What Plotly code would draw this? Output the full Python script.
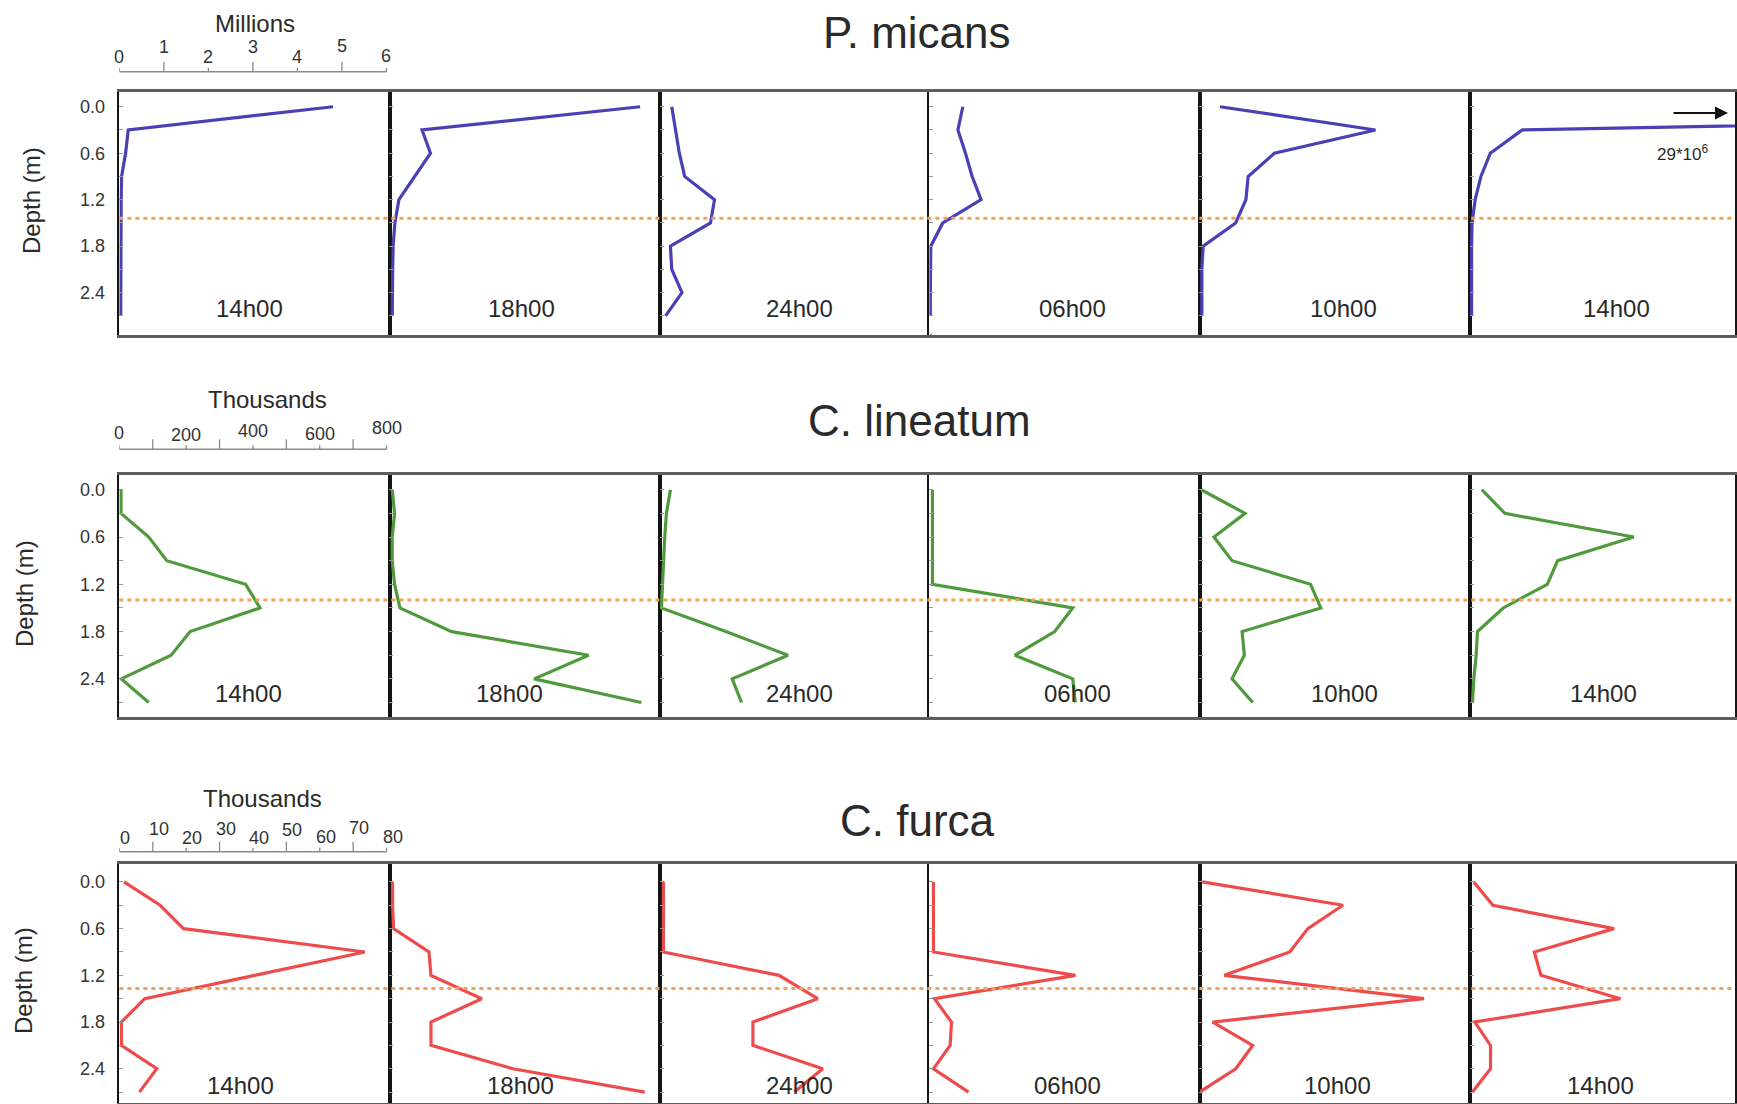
import plotly.graph_objects as go

# Sampling depths (m) and sampling times
depths = [0.0, 0.3, 0.6, 0.9, 1.2, 1.5, 1.8, 2.1, 2.4, 2.7]
times = ["14h00", "18h00", "24h00", "06h00", "10h00", "14h00"]

# P. micans abundance (millions of cells)
p_micans = [
    [4.80, 0.20, 0.14, 0.05, 0.04, 0.04, 0.04, 0.04, 0.03, 0.03],
    [5.63, 0.73, 0.92, 0.56, 0.21, 0.12, 0.08, 0.07, 0.06, 0.06],
    [0.27, 0.35, 0.44, 0.56, 1.23, 1.14, 0.24, 0.27, 0.50, 0.13],
    [0.75, 0.64, 0.81, 0.96, 1.16, 0.30, 0.03, 0.02, 0.02, 0.02],
    [0.46, 3.95, 1.68, 1.09, 1.04, 0.81, 0.08, 0.05, 0.05, 0.05],
    [29.0, 1.18, 0.46, 0.25, 0.12, 0.05, 0.04, 0.04, 0.04, 0.04],
]

# C. lineatum abundance (thousands of cells)
c_lineatum = [
    [5, 5, 88, 142, 378, 421, 212, 155, 6, 88],
    [8, 15, 8, 8, 15, 31, 186, 596, 433, 754],
    [32, 20, 15, 12, 9, 5, 198, 384, 217, 245],
    [9, 9, 9, 9, 9, 429, 375, 256, 429, 437],
    [5, 136, 43, 97, 332, 363, 127, 134, 97, 159],
    [36, 105, 491, 263, 232, 100, 23, 19, 12, 8],
]

# C. furca abundance (thousands of cells)
c_furca = [
    [1.4, 12.2, 19.2, 73.5, 40.5, 7.6, 0.6, 0.6, 11.2, 6.0],
    [0.9, 0.9, 1.2, 11.8, 12.4, 27.6, 12.4, 12.4, 36.9, 76.4],
    [1.1, 1.1, 1.1, 1.1, 35.7, 47.3, 27.9, 27.9, 48.8, 40.3],
    [1.2, 1.2, 1.2, 1.2, 43.7, 1.5, 6.6, 6.2, 1.2, 11.7],
    [0.8, 42.9, 32.4, 27.0, 7.4, 67.2, 3.9, 15.9, 10.8, 0.0],
    [1.2, 6.9, 43.2, 19.3, 21.3, 45.1, 1.5, 6.2, 6.2, 0.8],
]

species = ["P. micans", "C. lineatum", "C. furca"]
units = ["Millions", "Thousands", "Thousands"]
series = [p_micans, c_lineatum, c_furca]
line_colors = ["#4a40b5", "#4f9a3c", "#ee4c4c"]

# Depth of the dotted reference line in each row
ref_depth = [1.44, 1.40, 1.37]

# Abundance scale bar: tick values and labelled values per row
scale_ticks = [
    [0, 1, 2, 3, 4, 5, 6],
    [0, 100, 200, 300, 400, 500, 600, 700, 800],
    [0, 10, 20, 30, 40, 50, 60, 70, 80],
]
scale_labels = [
    [0, 1, 2, 3, 4, 5, 6],
    [0, 200, 400, 600, 800],
    [0, 10, 20, 30, 40, 50, 60, 70, 80],
]
depth_ticks = [0.0, 0.6, 1.2, 1.8, 2.4]

# ---------------- layout geometry (pixels) ----------------
W, H = 1737, 1104
col_left = [119.5, 390, 660.5, 930.5, 1201, 1471.5]
col_w = 270.5
row_top = [92, 475, 864]
row_bot = [334.5, 716.7, 1103]
yranges = [[2.94, -0.19], [2.88, -0.187], [2.84, -0.23]]
xmax = [6.07, 809, 80.9]

scale_line_y = [71.7, 449.3, 851.7]
scale_label_y = [
    [57, 47, 57, 47, 57, 46, 56],
    [433, 435, 431, 434, 428],
    [838, 829, 838, 829, 838, 830, 837, 828, 837],
]
scale_label_dx = [0, 0, 6]
title_pos = [(918, 33), (921, 420), (919, 820)]
unit_pos = [(255, 23), (268, 399), (263, 798)]
depth_label_pos = [(31, 200), (24, 593), (24, 980)]
time_frac = [
    [0.482, 0.490, 0.516, 0.529, 0.531, 0.542],
    [0.478, 0.444, 0.516, 0.549, 0.538, 0.493],
    [0.448, 0.483, 0.516, 0.510, 0.512, 0.485],
]
time_depth = [2.60, 2.58, 2.61]

FONT = "Liberation Sans, Arial, Helvetica, sans-serif"
TXT = "#2a2a2a"


def px(x):
    return x / W


def py(y):
    return 1 - y / H


def label(**kw):
    base = dict(showarrow=False, xanchor="center", yanchor="middle")
    base.update(kw)
    return base


fig = go.Figure()
layout = dict(
    width=W, height=H,
    margin=dict(l=0, r=0, t=0, b=0),
    paper_bgcolor="white", plot_bgcolor="white",
    showlegend=False,
    font=dict(family=FONT, color=TXT),
)
shapes = []
annotations = []

for r in range(3):
    for c in range(6):
        i = r * 6 + c + 1
        xname = "xaxis" if i == 1 else f"xaxis{i}"
        yname = "yaxis" if i == 1 else f"yaxis{i}"
        xref = "x" if i == 1 else f"x{i}"
        yref = "y" if i == 1 else f"y{i}"

        x0 = col_left[c]
        x1 = min(x0 + col_w, W)
        xr = [0, xmax[r] * (x1 - x0) / col_w]

        layout[xname] = dict(
            domain=[px(x0), px(x1)], range=xr, anchor=yref,
            showline=True, mirror=True, linecolor="#5e5e5e", linewidth=2.5,
            showgrid=False, zeroline=False, showticklabels=False, ticks="",
            fixedrange=True,
        )
        if c == 0:
            ticktext = [f"{d:.1f}" if any(abs(d - t) < 1e-9 for t in depth_ticks) else ""
                        for d in depths]
        else:
            ticktext = [""] * len(depths)
        layout[yname] = dict(
            domain=[py(row_bot[r]), py(row_top[r])], range=yranges[r], anchor=xref,
            showline=True, mirror=True, linecolor="#151515", linewidth=1.6,
            showgrid=False, zeroline=False,
            tickmode="array", tickvals=depths, ticktext=ticktext,
            ticks="inside", ticklen=4, tickcolor="#9a9a9a", tickwidth=1,
            tickfont=dict(size=18, color="#333333", family=FONT),
            ticklabelstandoff=9,
            fixedrange=True,
        )

        fig.add_trace(go.Scatter(
            x=series[r][c], y=depths, mode="lines",
            line=dict(color=line_colors[r], width=3.2),
            xaxis=xref, yaxis=yref, hoverinfo="x+y",
        ))

        annotations.append(label(
            x=time_frac[r][c] * xmax[r], y=time_depth[r], xref=xref, yref=yref,
            text=times[c], font=dict(size=24, color=TXT, family=FONT),
        ))

    first_x = "x" if r == 0 else f"x{r * 6 + 1}"
    first_y = "y" if r == 0 else f"y{r * 6 + 1}"

    # dotted reference depth across the whole row
    shapes.append(dict(
        type="line", xref="paper", yref=first_y,
        x0=px(col_left[0]), x1=1.0, y0=ref_depth[r], y1=ref_depth[r],
        line=dict(color="#f2a254", width=3, dash="4px,4px"),
    ))

    # abundance scale bar above the first panel
    ly = py(scale_line_y[r])
    shapes.append(dict(
        type="line", xref=first_x, yref="paper",
        x0=scale_ticks[r][0], x1=scale_ticks[r][-1], y0=ly, y1=ly,
        line=dict(color="#8a8a8a", width=1.5),
    ))
    for k, tv in enumerate(scale_ticks[r]):
        tl = 10 if k % 2 == 1 else 4
        shapes.append(dict(
            type="line", xref=first_x, yref="paper",
            x0=tv, x1=tv, y0=ly, y1=ly + tl / H,
            line=dict(color="#8a8a8a", width=1.3),
        ))
    for k, lv in enumerate(scale_labels[r]):
        annotations.append(label(
            x=lv, y=py(scale_label_y[r][k]), xref=first_x, yref="paper",
            text=str(lv), xshift=scale_label_dx[r],
            font=dict(size=18, color="#333333", family=FONT),
        ))

    annotations.append(label(
        x=px(unit_pos[r][0]), y=py(unit_pos[r][1]), xref="paper", yref="paper",
        text=units[r], font=dict(size=24, color=TXT, family=FONT),
    ))
    annotations.append(label(
        x=px(title_pos[r][0]), y=py(title_pos[r][1]), xref="paper", yref="paper",
        text=species[r], font=dict(size=44, color=TXT, family=FONT),
    ))
    annotations.append(label(
        x=px(depth_label_pos[r][0]), y=py(depth_label_pos[r][1]),
        xref="paper", yref="paper", text="Depth (m)", textangle=-90,
        font=dict(size=24, color=TXT, family=FONT),
    ))

# off-scale surface value in the last P. micans profile
annotations.append(dict(
    x=px(1730), y=py(113), xref="paper", yref="paper",
    ax=-56, ay=0, text="", showarrow=True,
    arrowhead=2, arrowsize=1.3, arrowwidth=2, arrowcolor="#111111",
))
annotations.append(label(
    x=px(1684), y=py(153), xref="paper", yref="paper",
    text="29*10<sup>6</sup>", font=dict(size=17, color=TXT, family=FONT),
))

layout["shapes"] = shapes
layout["annotations"] = annotations
fig.update_layout(**layout)

fig.write_html("out.html")
